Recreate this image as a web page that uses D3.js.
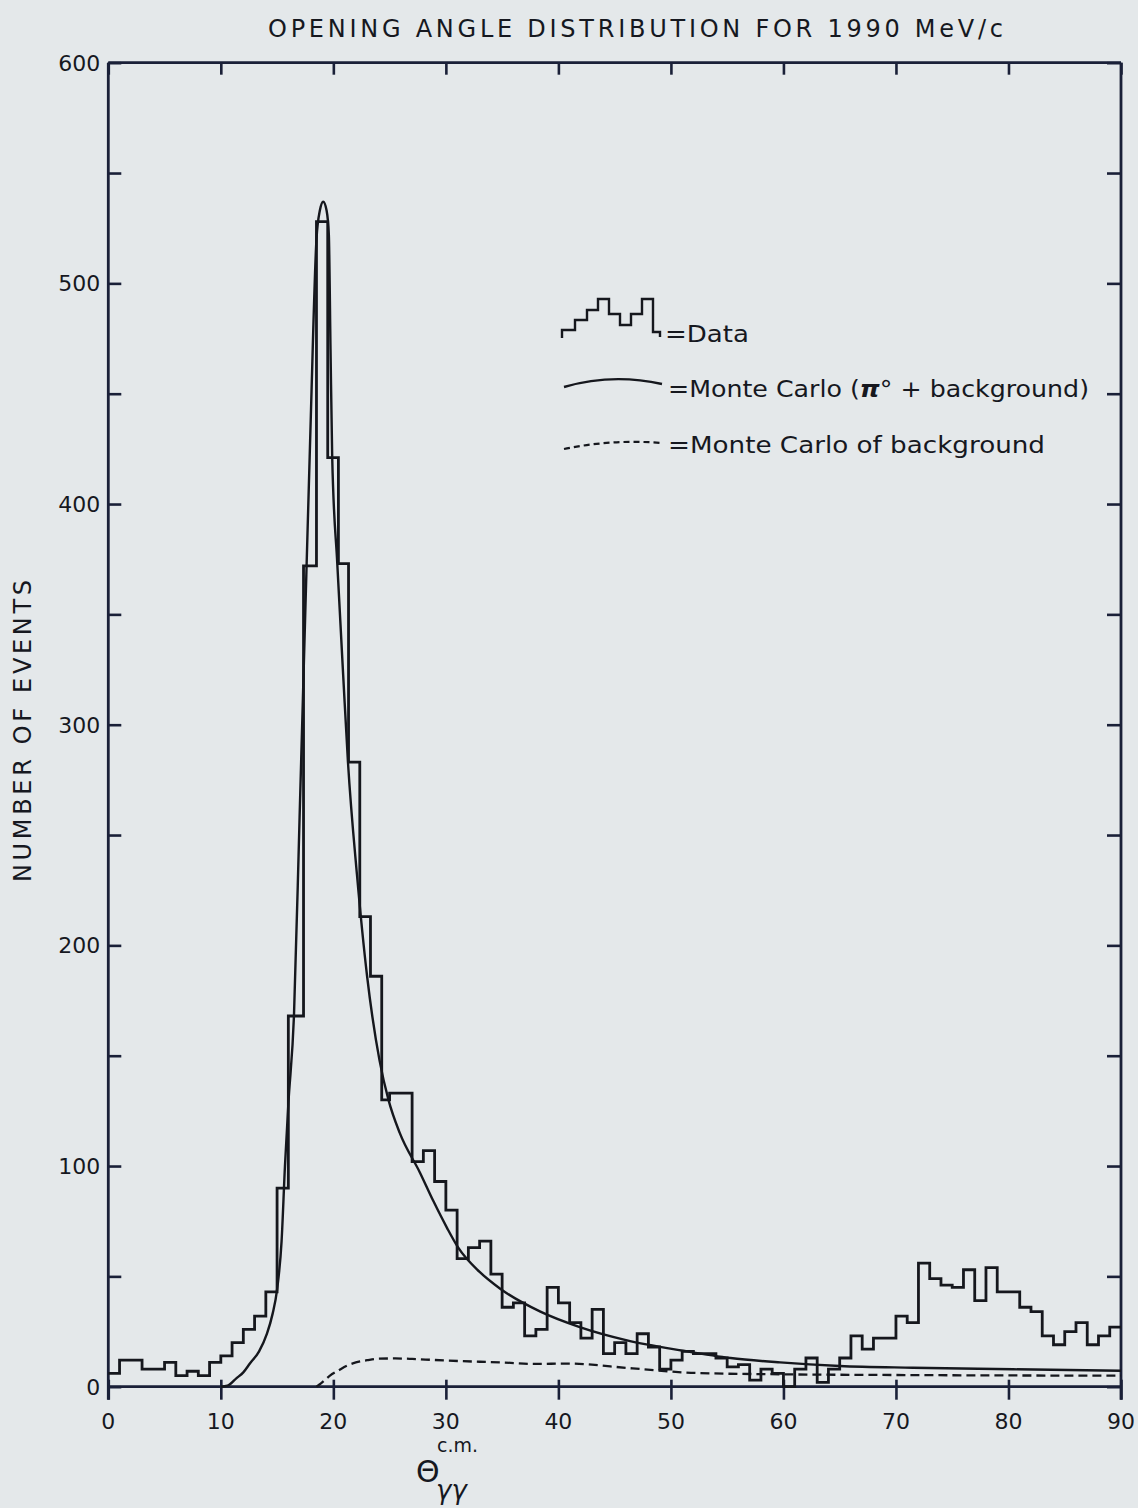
<!DOCTYPE html>
<html>
<head>
<meta charset="utf-8">
<script src="https://cdn.jsdelivr.net/npm/d3@7"></script>
<style>
  html, body { margin: 0; padding: 0; background: #e4e8ea; }
  svg { display: block; }
  text { font-family: "DejaVu Sans", sans-serif; fill: #16181f; }
</style>
</head>
<body>
<svg id="chart" width="1138" height="1508"></svg>
<script>
// Opening-angle histogram (1 degree bins, edges in degrees)
const binEdges = [
  0, 1, 2, 3, 4, 5, 6, 7, 8, 9,
  10, 11, 12, 13, 14, 15, 16, 17.35, 18.5, 19.5,
  20.45, 21.35, 22.35, 23.3, 24.3, 25, 26, 27, 28, 29,
  30, 31, 32, 33, 34, 35, 36, 37, 38, 39,
  40, 41, 42, 43, 44, 45, 46, 47, 48, 49,
  50, 51, 52, 53, 54, 55, 56, 57, 58, 59,
  60, 61, 62, 63, 64, 65, 66, 67, 68, 69,
  70, 71, 72, 73, 74, 75, 76, 77, 78, 79,
  80, 81, 82, 83, 84, 85, 86, 87, 88, 89,
  90
];
const dataCounts = [
  6, 12, 12, 8, 8, 11, 5, 7, 5, 11,
  14, 20, 26, 32, 43, 90, 168, 372, 528, 421,
  373, 283, 213, 186, 130, 133, 133, 102, 107, 93,
  80, 58, 63, 66, 51, 36, 38, 23, 26, 45,
  38, 29, 22, 35, 15, 20, 15, 24, 18, 8,
  12, 16, 15, 15, 13, 9, 10, 3, 8, 6,
  0, 8, 13, 2, 8, 13, 23, 17, 22, 22,
  32, 29, 56, 49, 46, 45, 53, 39, 54, 43,
  43, 36, 34, 23, 19, 25, 29, 19, 23, 27
];

// Monte Carlo (pi0 + background): angle, events
const mcTotalAngle = [10.0, 10.6, 11.4, 12.0, 12.6, 13.4, 14.1, 14.6, 15.0, 15.4,
  15.7, 16.0, 16.5, 17.0, 17.6, 18.0, 18.5, 18.8, 19.1, 19.4,
  19.6, 19.75, 19.9, 20.35, 20.9, 21.3, 22.1, 23.0, 24.1, 24.9,
  25.9, 27.7, 28.9, 30.1, 31.1, 33.0, 34.8, 38.4, 41.9, 46.1,
  51.1, 55.3, 59.7, 65.0, 71.5, 80.4, 90.0];
const mcTotalEvents = [0, 0.5, 3.9, 6.5, 10.6, 16, 24, 33, 44, 66,
  100, 128, 168, 258, 368, 440, 520, 533, 537, 533,
  522, 470, 421, 373, 320, 283, 232, 186, 148, 130,
  115, 97, 84, 72, 63, 52, 44.5, 34, 27, 21,
  16.3, 13, 11, 9.4, 8.6, 7.9, 7.2];

// Monte Carlo of background only: angle, events
const mcBgAngle = [18.5, 18.9, 19.7, 20.5, 21.2, 22.0, 23.0, 24.0, 25.5, 27.0,
  29.0, 33.0, 35.0, 38.0, 40.7, 46.6, 52.3, 60, 70, 80, 90];
const mcBgEvents = [0, 1.5, 5, 7.5, 9.5, 11, 12, 12.7, 12.8, 12.6,
  12.1, 11.3, 11, 10.3, 10.5, 8.3, 6.2, 5.6, 5.3, 5.1, 5.0];

const xTicks = [0, 10, 20, 30, 40, 50, 60, 70, 80, 90];
const yMinorTicks = [0, 50, 100, 150, 200, 250, 300, 350, 400, 450, 500, 550, 600];
const yLabelTicks = [0, 100, 200, 300, 400, 500, 600];

const titleText = "OPENING ANGLE DISTRIBUTION FOR 1990 MeV/c";
const yAxisTitle = "NUMBER OF EVENTS";

const ink = "#15171d";
const frameInk = "#1a2038";

const svg = d3.select("#chart");
const x = d3.scaleLinear().domain([0, 90]).range([108.3, 1121]);
const y = d3.scaleLinear().domain([0, 600]).range([1386.7, 62.7]);

// Title
svg.append("text")
  .attr("x", 268).attr("y", 37)
  .attr("textLength", 735).attr("lengthAdjust", "spacing")
  .style("font-size", "24px")
  .text(titleText);

// Y axis title
svg.append("text")
  .attr("transform", "translate(31,882) rotate(-90)")
  .attr("textLength", 302).attr("lengthAdjust", "spacing")
  .style("font-size", "24px")
  .text(yAxisTitle);

// Frame axes
const axisG = svg.append("g");
const bottomAxis = d3.axisBottom(x).tickValues(xTicks).tickSize(13).tickFormat("");
const topAxis = d3.axisBottom(x).tickValues(xTicks).tickSize(12).tickFormat("");
const leftAxis = d3.axisRight(y).tickValues(yMinorTicks).tickSize(13).tickFormat("");
const rightAxis = d3.axisLeft(y).tickValues(yMinorTicks).tickSize(14).tickFormat("");

function styleAxis(g) {
  g.select(".domain").remove();
  g.selectAll(".tick line").attr("stroke", frameInk).attr("stroke-width", 2.6);
}

axisG.append("g").attr("transform", `translate(0,${y(0)})`).call(bottomAxis).call(styleAxis)
  .selectAll(".tick line").attr("y1", -7);
axisG.append("g").attr("transform", `translate(0,${y(600)})`).call(topAxis).call(styleAxis);
axisG.append("g").attr("transform", `translate(${x(0)},0)`).call(leftAxis).call(styleAxis);
axisG.append("g").attr("transform", `translate(${x(90)},0)`).call(rightAxis).call(styleAxis);

// Box lines (vertical sides run a little below the baseline)
const frame = axisG.append("g").attr("stroke", frameInk).attr("stroke-width", 2.8).attr("fill", "none");
frame.append("line").attr("x1", x(0)).attr("x2", x(90)).attr("y1", y(0)).attr("y2", y(0));
frame.append("line").attr("x1", x(0)).attr("x2", x(90)).attr("y1", y(600)).attr("y2", y(600));
frame.append("line").attr("x1", x(0)).attr("x2", x(0)).attr("y1", y(600)).attr("y2", y(0) + 13);
frame.append("line").attr("x1", x(90)).attr("x2", x(90)).attr("y1", y(600)).attr("y2", y(0) + 13);

// Tick labels
svg.append("g").selectAll("text").data(xTicks).join("text")
  .attr("x", d => x(d)).attr("y", y(0) + 42)
  .attr("text-anchor", "middle")
  .style("font-size", "22px")
  .text(d => d);

svg.append("g").selectAll("text").data(yLabelTicks).join("text")
  .attr("x", x(0) - 8).attr("y", d => y(d) + 8)
  .attr("text-anchor", "end")
  .style("font-size", "22px")
  .text(d => d);

// Data histogram as a step outline
const histPath = d3.path();
dataCounts.forEach((c, i) => {
  const x0 = x(binEdges[i]), x1 = x(binEdges[i + 1]);
  if (i === 0) histPath.moveTo(x0, y(c));
  else histPath.lineTo(x0, y(c));
  histPath.lineTo(x1, y(c));
});
svg.append("path")
  .attr("d", histPath.toString())
  .attr("fill", "none").attr("stroke", ink)
  .attr("stroke-width", 2.8).attr("stroke-linejoin", "miter");

// Monte Carlo curves
const curveLine = d3.line().x(d => x(d[0])).y(d => y(d[1])).curve(d3.curveMonotoneX);
svg.append("path")
  .attr("d", curveLine(d3.zip(mcTotalAngle, mcTotalEvents)))
  .attr("fill", "none").attr("stroke", ink).attr("stroke-width", 2.4);
svg.append("path")
  .attr("d", curveLine(d3.zip(mcBgAngle, mcBgEvents)))
  .attr("fill", "none").attr("stroke", ink).attr("stroke-width", 2.3)
  .attr("stroke-dasharray", "9,5");

// Legend
const legend = svg.append("g");
legend.append("path")
  .attr("d", "M562,338 V330 H575 V320 H587 V310 H598 V299 H609 V314 H620 V325 H631 V314 H642 V299 H653 V332 H660 V337")
  .attr("fill", "none").attr("stroke", ink).attr("stroke-width", 2.4);
legend.append("text").attr("x", 665).attr("y", 342)
  .attr("textLength", 84).attr("lengthAdjust", "spacingAndGlyphs")
  .style("font-size", "23px").text("=Data");

legend.append("path")
  .attr("d", "M564,387 Q612,373 662,384")
  .attr("fill", "none").attr("stroke", ink).attr("stroke-width", 2.4);
const t2 = legend.append("text").attr("x", 668).attr("y", 397)
  .attr("textLength", 421).attr("lengthAdjust", "spacingAndGlyphs")
  .style("font-size", "23px");
t2.append("tspan").text("=Monte Carlo (");
t2.append("tspan").style("font-style", "italic").style("font-weight", "bold").text("π");
t2.append("tspan").text("° + background)");

legend.append("path")
  .attr("d", "M564,449 Q612,439 662,443")
  .attr("fill", "none").attr("stroke", ink).attr("stroke-width", 2.2)
  .attr("stroke-dasharray", "6,4");
legend.append("text").attr("x", 668).attr("y", 453)
  .attr("textLength", 377).attr("lengthAdjust", "spacingAndGlyphs")
  .style("font-size", "23px").text("=Monte Carlo of background");

// X axis title: Theta with c.m. superscript and gamma-gamma subscript
const xt = svg.append("g");
xt.append("text").attr("x", 416).attr("y", 1482).style("font-size", "30px").text("Θ");
xt.append("text").attr("x", 437).attr("y", 1452).style("font-size", "19px").text("c.m.");
xt.append("text").attr("x", 436).attr("y", 1499).style("font-size", "26px")
  .style("font-style", "italic").text("γγ");
</script>
</body>
</html>
